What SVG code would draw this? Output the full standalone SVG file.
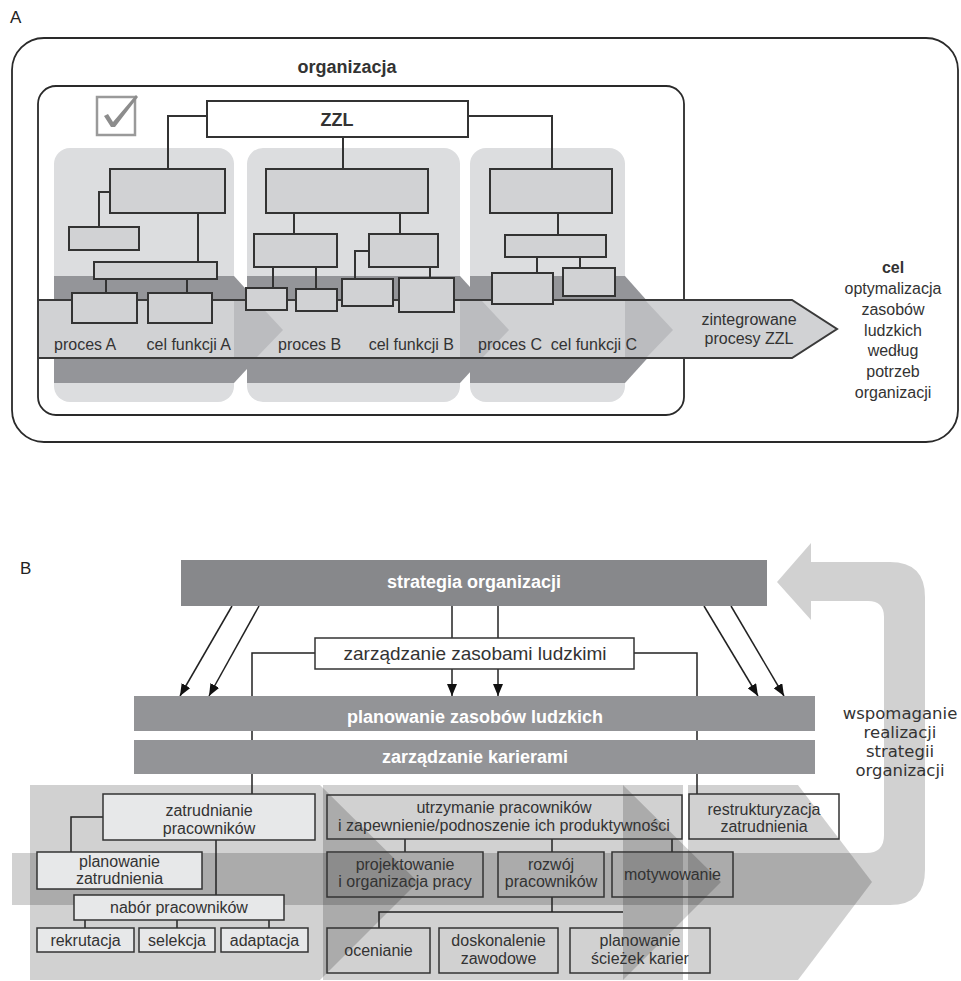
<svg xmlns="http://www.w3.org/2000/svg" width="961" height="981" viewBox="0 0 961 981">
  <defs>
    <style>
      text { font-family: "Liberation Sans", Arial, sans-serif; fill: #333; }
      .lbl { font-size: 17px; fill: #222; }
      .t16 { font-size: 16px; }
      .tb { font-size: 16px; text-anchor: middle; }
      .bold { font-weight: bold; }
      .bar-t { font-size: 18px; font-weight: bold; fill: #fff; text-anchor: middle; }
      .side { font-family: "DejaVu Sans", sans-serif; font-size: 16.5px; text-anchor: middle; }
      .frame { fill: none; stroke: #2a2a2a; stroke-width: 1.8; }
      .col { fill: #dcdddf; }
      .band { fill: #949599; }
      .tip { fill: #bbbcbf; }
      .obox { fill: #d1d2d4; stroke: #333; stroke-width: 2; }
      .oline { fill: none; stroke: #333; stroke-width: 2; }
      .veil { fill: #000; fill-opacity: 0.18; }
      .bar1 { fill: #87888b; }
      .bar2 { fill: #939497; }
      .lbox { fill: #e7e8e9; stroke: #333; stroke-width: 1.5; }
      .tbox { fill: none; stroke: #333; stroke-width: 1.5; }
      .wbox { fill: #fff; stroke: #333; stroke-width: 1.5; }
      .conn { fill: none; stroke: #222; stroke-width: 1.5; }
    </style>
    <marker id="head" viewBox="0 0 12 10" markerWidth="12" markerHeight="10" refX="12" refY="5" orient="auto" markerUnits="userSpaceOnUse">
      <path d="M0,0 L12,5 L0,10 Z" fill="#111"/>
    </marker>
  </defs>

  <rect width="961" height="981" fill="#fff"/>

  <!-- ===== Panel A ===== -->
  <text class="lbl" x="10" y="23">A</text>
  <rect class="frame" x="12" y="38" width="946" height="404" rx="32"/>
  <rect class="frame" x="38" y="86" width="646" height="329" rx="18"/>
  <text class="bold" x="347" y="73" font-size="18" text-anchor="middle" fill="#222">organizacja</text>

  <!-- check box -->
  <g id="checkbox">
    <rect x="97" y="97" width="38" height="38" fill="#fff" stroke="#9a9a9a" stroke-width="2.5"/>
    <path d="M104,116 L108,114 L113,122 L136,95 L138,97 L115,127 L111,127 Z" fill="#8c8c8c"/>
  </g>

  <!-- function columns -->
  <g id="columns">
    <rect class="col" x="54" y="148" width="180" height="254" rx="16"/>
    <rect class="col" x="247" y="148" width="213" height="254" rx="16"/>
    <rect class="col" x="470" y="148" width="155" height="254" rx="16"/>
    <polygon class="band" points="54,276 234,276 283,330 234,383 54,383"/>
    <polygon class="band" points="247,276 460,276 509,330 460,383 247,383"/>
    <polygon class="band" points="470,276 625,276 673,330 625,383 470,383"/>
  </g>

  <!-- integrated process arrow -->
  <g id="process-arrow">
    <polygon points="38,300 792,300 837,329 792,358 38,358" fill="#d1d2d4"/>
    <polygon class="tip" points="234,301 256,301 283,330 257,357 234,357"/>
    <polygon class="tip" points="460,301 482,301 509,330 483,357 460,357"/>
    <polygon class="tip" points="625,301 646,301 673,330 647,357 625,357"/>
    <polygon points="38,300 792,300 837,329 792,358 38,358" fill="none" stroke="#3a3a3a" stroke-width="2"/>
    <text class="t16" x="54" y="350">proces A</text>
    <text class="t16" x="231" y="350" text-anchor="end">cel funkcji A</text>
    <text class="t16" x="278" y="350">proces B</text>
    <text class="t16" x="454" y="350" text-anchor="end">cel funkcji B</text>
    <text class="t16" x="478" y="350">proces C</text>
    <text class="t16" x="637" y="350" text-anchor="end">cel funkcji C</text>
    <text class="t16" x="749" y="325" text-anchor="middle">zintegrowane</text>
    <text class="t16" x="749" y="344" text-anchor="middle">procesy ZZL</text>
  </g>

  <!-- org chart connectors -->
  <g id="org-connectors">
    <polyline class="oline" points="207,116 168,116 168,169"/>
    <polyline class="oline" points="468,116 552,116 552,169"/>
    <line class="oline" x1="343" y1="137" x2="343" y2="169"/>
    <polyline class="oline" points="110,192 99,192 99,227"/>
    <line class="oline" x1="198" y1="213" x2="198" y2="262"/>
    <line class="oline" x1="106" y1="279" x2="106" y2="293"/>
    <line class="oline" x1="187" y1="279" x2="187" y2="293"/>
    <line class="oline" x1="294" y1="213" x2="294" y2="234"/>
    <line class="oline" x1="400" y1="213" x2="400" y2="234"/>
    <line class="oline" x1="273" y1="267" x2="273" y2="288"/>
    <line class="oline" x1="316" y1="267" x2="316" y2="289"/>
    <polyline class="oline" points="369,251 355,251 355,279"/>
    <line class="oline" x1="430" y1="267" x2="430" y2="278"/>
    <line class="oline" x1="558" y1="213" x2="558" y2="235"/>
    <line class="oline" x1="537" y1="257" x2="537" y2="273"/>
    <line class="oline" x1="580" y1="257" x2="580" y2="268"/>
  </g>

  <g id="zzl">
    <rect x="207" y="101" width="261" height="36" fill="#fff" stroke="#333" stroke-width="2"/>
    <text class="bold" x="337" y="126" font-size="18" text-anchor="middle" fill="#222">ZZL</text>
  </g>
  <g id="org-a">
    <rect class="obox" x="110" y="169" width="115" height="44"/>
    <rect class="obox" x="69" y="227" width="70" height="23"/>
    <rect class="obox" x="94" y="262" width="123" height="17"/>
    <rect class="obox" x="72" y="293" width="65" height="30"/>
    <rect class="obox" x="148" y="293" width="64" height="30"/>
  </g>
  <g id="org-b">
    <rect class="obox" x="266" y="169" width="162" height="44"/>
    <rect class="obox" x="254" y="234" width="83" height="33"/>
    <rect class="obox" x="369" y="234" width="69" height="33"/>
    <rect class="obox" x="246" y="288" width="41" height="22"/>
    <rect class="obox" x="296" y="289" width="41" height="22"/>
    <rect class="obox" x="342" y="279" width="51" height="27"/>
    <rect class="obox" x="399" y="278" width="55" height="34"/>
  </g>
  <g id="org-c">
    <rect class="obox" x="490" y="169" width="122" height="44"/>
    <rect class="obox" x="505" y="235" width="101" height="22"/>
    <rect class="obox" x="492" y="273" width="61" height="31"/>
    <rect class="obox" x="563" y="268" width="52" height="28"/>
  </g>

  <g id="goal">
    <text class="bold" x="893" y="273" font-size="16" text-anchor="middle" fill="#222">cel</text>
    <text x="893" y="294" text-anchor="middle" class="t16">optymalizacja</text>
    <text x="893" y="315" text-anchor="middle" class="t16">zasobów</text>
    <text x="893" y="336" text-anchor="middle" class="t16">ludzkich</text>
    <text x="893" y="356" text-anchor="middle" class="t16">według</text>
    <text x="893" y="377" text-anchor="middle" class="t16">potrzeb</text>
    <text x="893" y="398" text-anchor="middle" class="t16">organizacji</text>
  </g>

  <!-- ===== Panel B ===== -->
  <text class="lbl" x="20" y="574">B</text>

  <!-- process columns with chevron tips (translucent, overlaps darken) -->
  <g id="chevrons">
    <rect class="veil" x="30" y="785" width="290" height="195"/>
    <rect class="veil" x="323" y="785" width="360" height="195"/>
    <polygon class="veil" points="688,785 798,785 872,882 798,980 688,980"/>
    <polygon class="veil" points="320,785 418,882 320,980"/>
    <polygon class="veil" points="623,785 721,882 623,980"/>
  </g>
  <g id="feedback-arrow">
    <path class="veil" d="M12,853 H866 Q884,853 884,835 V617 Q884,601 868,601 H811 V620 L777,582 L811,543 V562 H890 Q925,562 925,597 V870 Q925,905 890,905 H12 Z"/>
    <text class="side" x="900" y="719">wspomaganie</text>
    <text class="side" x="900" y="738">realizacji</text>
    <text class="side" x="900" y="757">strategii</text>
    <text class="side" x="900" y="776">organizacji</text>
  </g>

  <!-- connectors -->
  <g id="connectors">
    <polyline class="conn" points="315,653 252,653 252,794"/>
    <polyline class="conn" points="634,653 697,653 697,794"/>
    <line class="conn" x1="452" y1="606" x2="452" y2="638"/>
    <line class="conn" x1="498" y1="606" x2="498" y2="638"/>
    <line class="conn" x1="452" y1="669" x2="452" y2="696" marker-end="url(#head)"/>
    <line class="conn" x1="498" y1="669" x2="498" y2="696" marker-end="url(#head)"/>
    <line class="conn" x1="232" y1="606" x2="180" y2="696" marker-end="url(#head)"/>
    <line class="conn" x1="259" y1="606" x2="209" y2="696" marker-end="url(#head)"/>
    <line class="conn" x1="704" y1="606" x2="758" y2="696" marker-end="url(#head)"/>
    <line class="conn" x1="731" y1="606" x2="784" y2="696" marker-end="url(#head)"/>
    <!-- employment branch -->
    <polyline class="conn" points="103,817 71,817 71,852"/>
    <line class="conn" x1="216" y1="840" x2="216" y2="895"/>
    <line class="conn" x1="85" y1="920" x2="85" y2="928"/>
    <line class="conn" x1="177" y1="920" x2="177" y2="928"/>
    <line class="conn" x1="269" y1="920" x2="269" y2="928"/>
    <!-- retention branch -->
    <line class="conn" x1="405" y1="839" x2="405" y2="852"/>
    <line class="conn" x1="552" y1="839" x2="552" y2="852"/>
    <line class="conn" x1="672" y1="839" x2="672" y2="852"/>
    <line class="conn" x1="552" y1="897" x2="552" y2="912"/>
    <polyline class="conn" points="623,912 379,912 379,928"/>
  </g>

  <g id="strategia">
    <rect class="bar1" x="181" y="560" width="586" height="46"/>
    <text class="bar-t" x="474" y="588">strategia organizacji</text>
  </g>
  <g id="zzl-b">
    <rect class="wbox" x="315" y="638" width="319" height="31"/>
    <text x="475" y="660" font-size="19" text-anchor="middle">zarządzanie zasobami ludzkimi</text>
  </g>
  <g id="planowanie-zl">
    <rect class="bar2" x="134" y="696" width="681" height="35"/>
    <text class="bar-t" x="475" y="723">planowanie zasobów ludzkich</text>
  </g>
  <g id="kariery">
    <rect class="bar2" x="134" y="740" width="681" height="34"/>
    <text class="bar-t" x="475" y="763">zarządzanie karierami</text>
  </g>

  <g id="zatrudnianie">
    <rect class="lbox" x="103" y="794" width="212" height="46"/>
    <text class="tb" x="209" y="816">zatrudnianie</text>
    <text class="tb" x="209" y="834">pracowników</text>
  </g>
  <g id="planowanie-zatr">
    <rect class="lbox" x="37" y="852" width="165" height="37"/>
    <text class="tb" x="119.5" y="867">planowanie</text>
    <text class="tb" x="119.5" y="884">zatrudnienia</text>
  </g>
  <g id="nabor">
    <rect class="lbox" x="74" y="895" width="210" height="25"/>
    <text class="tb" x="179" y="913">nabór pracowników</text>
  </g>
  <g id="rekrutacja">
    <rect class="lbox" x="37" y="928" width="97" height="24"/>
    <text class="tb" x="85.5" y="946">rekrutacja</text>
  </g>
  <g id="selekcja">
    <rect class="lbox" x="139" y="928" width="76" height="24"/>
    <text class="tb" x="177" y="946">selekcja</text>
  </g>
  <g id="adaptacja">
    <rect class="lbox" x="221" y="928" width="87" height="24"/>
    <text class="tb" x="264.5" y="946">adaptacja</text>
  </g>

  <g id="utrzymanie">
    <rect class="tbox" x="327" y="795" width="355" height="44"/>
    <text class="tb" x="504" y="813">utrzymanie pracowników</text>
    <text class="tb" x="504" y="831">i zapewnienie/podnoszenie ich produktywności</text>
  </g>
  <g id="projektowanie">
    <rect class="tbox" x="327" y="852" width="156" height="45"/>
    <text class="tb" x="405" y="870">projektowanie</text>
    <text class="tb" x="405" y="887">i organizacja pracy</text>
  </g>
  <g id="rozwoj">
    <rect class="tbox" x="498" y="852" width="106" height="45"/>
    <text class="tb" x="551" y="870">rozwój</text>
    <text class="tb" x="551" y="887">pracowników</text>
  </g>
  <g id="motywowanie">
    <rect class="tbox" x="612" y="852" width="121" height="45"/>
    <text class="tb" x="672.5" y="880">motywowanie</text>
  </g>
  <g id="ocenianie">
    <rect class="tbox" x="327" y="928" width="103" height="45"/>
    <text class="tb" x="378.5" y="956">ocenianie</text>
  </g>
  <g id="doskonalenie">
    <rect class="tbox" x="439" y="928" width="119" height="45"/>
    <text class="tb" x="498.5" y="946">doskonalenie</text>
    <text class="tb" x="498.5" y="964">zawodowe</text>
  </g>
  <g id="sciezki">
    <rect class="tbox" x="570" y="928" width="140" height="45"/>
    <text class="tb" x="640" y="946">planowanie</text>
    <text class="tb" x="640" y="964">ścieżek karier</text>
  </g>
  <g id="restrukturyzacja">
    <rect class="tbox" x="689" y="794" width="150" height="45"/>
    <text class="tb" x="764" y="815">restrukturyzacja</text>
    <text class="tb" x="764" y="832">zatrudnienia</text>
  </g>
</svg>
